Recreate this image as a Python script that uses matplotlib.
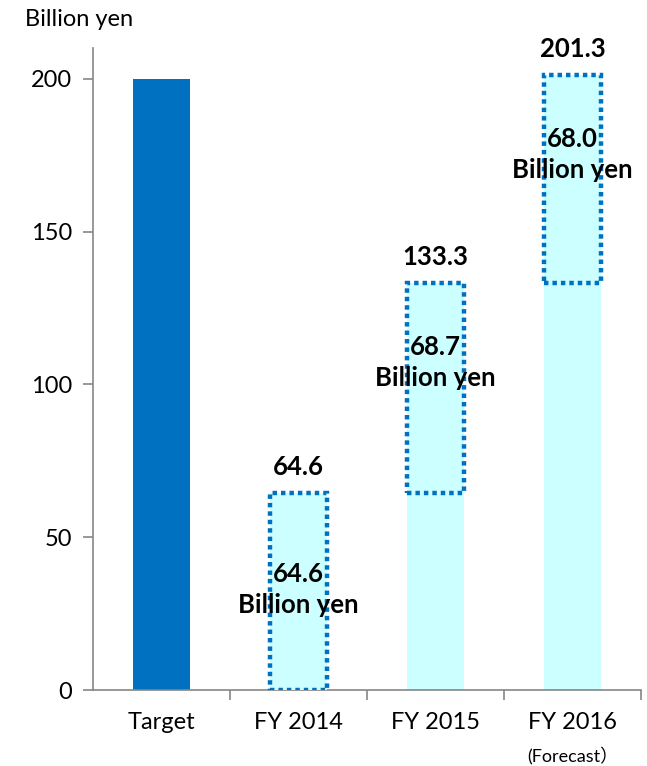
import matplotlib
matplotlib.use("Agg")
import matplotlib.pyplot as plt

plt.rcParams["font.family"] = ["Lato", "Noto Sans CJK JP", "DejaVu Sans"]

categories = ["Target", "FY 2014", "FY 2015", "FY 2016"]
target = 200.0
base = [0.0, 0.0, 64.6, 133.3]      # carried-over part (no border)
increment = [0.0, 64.6, 68.7, 68.0]  # new part (dotted border)
totals = [None, 64.6, 133.3, 201.3]
inc_labels = ["", "64.6\nBillion yen", "68.7\nBillion yen", "68.0\nBillion yen"]
label_frac = [0, 0.51, 0.62, 0.615]

blue = "#0070C0"
cyan = "#CCFFFF"
grey = "#868686"

fig = plt.figure(figsize=(6.47, 7.66), dpi=100)
ax = fig.add_axes([0.1437, 0.0992, 0.847, 0.838])

x = list(range(len(categories)))
w = 0.41

ax.bar(x[0], target, width=w, color=blue, zorder=2)
ax.bar(x[1:], base[1:], width=w, color=cyan, zorder=2)
ax.bar(x[1:], increment[1:], bottom=base[1:], width=w, color=cyan,
       edgecolor=blue, linewidth=3.2, linestyle=(0, (1, 0.9)), zorder=3)

for i in x[1:]:
    top = base[i] + increment[i]
    ax.annotate(f"{totals[i]:.1f}", (i, top), xytext=(0, 10),
                textcoords="offset points", ha="center", va="bottom",
                fontsize=18.5, fontweight="bold")
    ax.text(i, base[i] + increment[i] * label_frac[i], inc_labels[i],
            ha="center", va="center", fontsize=18.5, fontweight="bold",
            linespacing=1.35, zorder=4)

ax.set_xlim(-0.5, 3.5)
ax.set_ylim(0, 210)
ax.set_yticks([0, 50, 100, 150, 200])
ax.tick_params(axis="y", labelsize=17, length=7, color=grey, width=1.2, pad=8)
ax.set_xticks(x)
ax.set_xticklabels(categories, fontsize=17)
ax.tick_params(axis="x", length=0, pad=16)
ax.set_xticks([0.5, 1.5, 2.5, 3.5], minor=True)
ax.tick_params(axis="x", which="minor", length=7, color=grey, width=1.2)
ax.text(3, -0.09, "(Forecast）", transform=ax.get_xaxis_transform(),
        ha="center", va="top", fontsize=13)

for s in ["top", "right"]:
    ax.spines[s].set_visible(False)
for s in ["left", "bottom"]:
    ax.spines[s].set_color(grey)
    ax.spines[s].set_linewidth(1.2)

fig.text(0.039, 0.975, "Billion yen", ha="left", va="center", fontsize=17)

fig.savefig("out.png", dpi=100)
